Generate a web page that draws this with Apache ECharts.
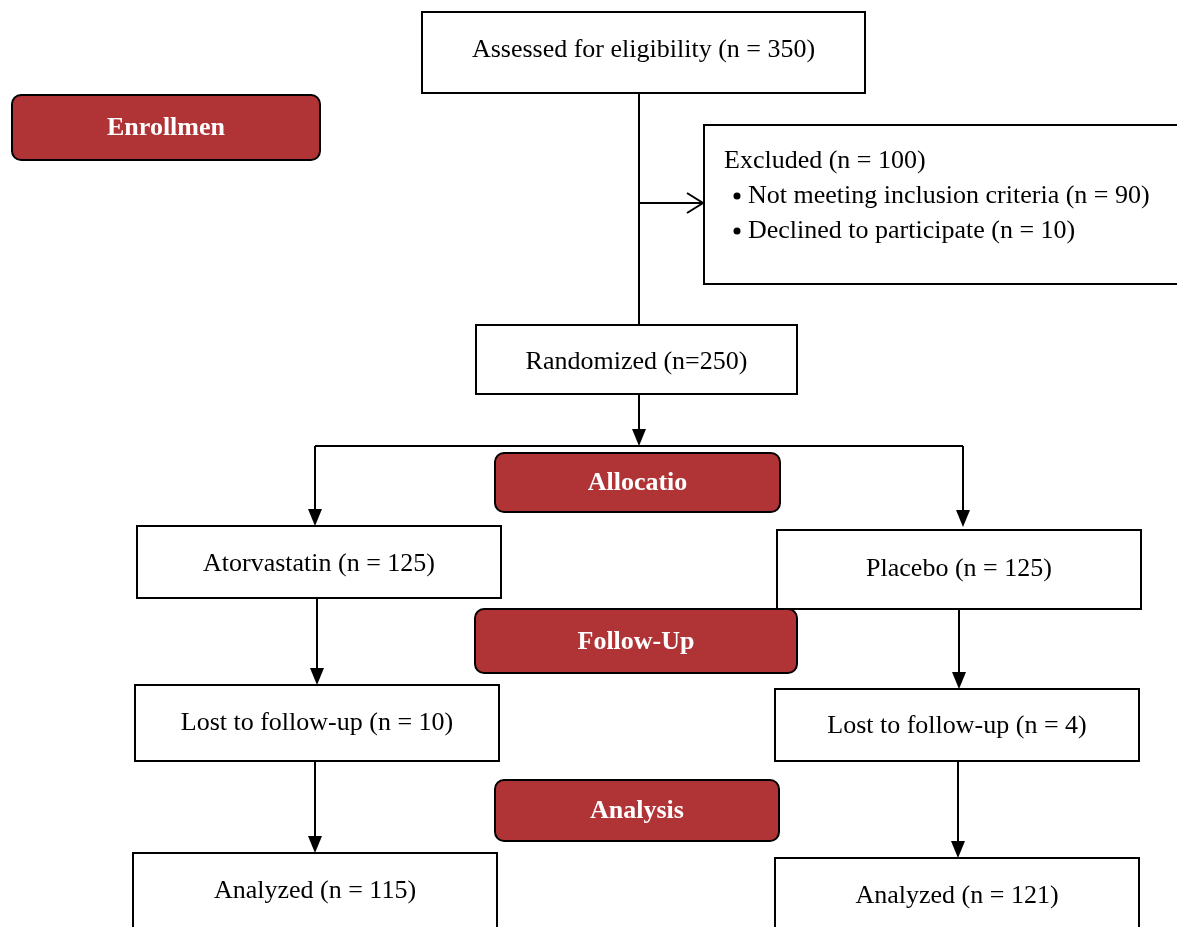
<!DOCTYPE html>
<html><head><meta charset="utf-8">
<script src="https://cdn.jsdelivr.net/npm/echarts@6/dist/echarts.min.js"></script>
<style>html,body{margin:0;padding:0;background:#fff;overflow:hidden}#c{width:1177px;height:927px}</style>
</head><body><div id="c"></div>
<script>
// ---- content (data) ----
const boxLabels = ['Assessed for eligibility', 'Randomized', 'Atorvastatin', 'Placebo', 'Lost to follow-up', 'Lost to follow-up', 'Analyzed', 'Analyzed'];
const boxCounts = [350, 250, 125, 125, 10, 4, 115, 121];
const excludedTitle = 'Excluded';
const excludedCount = 100;
const excludedReasons = ['Not meeting inclusion criteria', 'Declined to participate'];
const excludedReasonCounts = [90, 10];
const stageLabels = ['Enrollmen', 'Allocatio', 'Follow-Up', 'Analysis'];

// ---- layout (positions in chart units) ----
const boxRects = [[422,12,865,93],[476,325,797,394],[137,526,501,598],[777,530,1141,609],[135,685,499,761],[775,689,1139,761],[133,853,497,945],[775,858,1139,945]];
const boxTextY = [50, 362, 564, 569, 723, 726, 891, 896];
const excludedRect = [704, 125, 1190, 284];
const excludedLineY = [161, 196, 231];
const stageRects = [[12,95,320,160],[495,453,780,512],[475,609,797,673],[495,780,779,841]];
const connectorPaths = [
  [[639,93],[639,325]],
  [[639,203],[703,203]],
  [[639,394],[639,446]],
  [[315,446],[963,446]],
  [[315,446],[315,526]],
  [[963,446],[963,527]],
  [[317,592],[317,685]],
  [[959,598],[959,689]],
  [[315,761],[315,853]],
  [[958,761],[958,858]]
];
const connectorHeads = ['none','open','filled','none','filled','filled','filled','filled','filled','filled'];

// ---- styles ----
const FONT = '"Liberation Serif", "Times New Roman", serif';
const FS = 26;
const RED = '#B03335';

function countText(i) {
  return i === 1 ? boxLabels[i] + ' (n=' + boxCounts[i] + ')' : boxLabels[i] + ' (n = ' + boxCounts[i] + ')';
}

const chart = echarts.init(document.getElementById('c'), null, {renderer: 'canvas'});

const option = {
  animation: false,
  backgroundColor: '#fff',
  grid: {left: 0, right: 0, top: 0, bottom: 0},
  xAxis: {type: 'value', min: 0, max: 1177, show: false},
  yAxis: {type: 'value', min: 0, max: 927, inverse: true, show: false},
  series: [
    {
      type: 'custom', clip: false, z: 1,
      data: connectorPaths.map((p, i) => [i]),
      renderItem: function (params, api) {
        const i = api.value(0);
        const pts = connectorPaths[i].map(p => api.coord(p));
        const head = connectorHeads[i];
        const children = [];
        const end = pts[pts.length - 1];
        const linePts = pts.slice();
        if (head === 'filled') {
          linePts[linePts.length - 1] = [end[0], end[1] - 15];
          children.push({type: 'polygon', shape: {points: [[end[0]-7, end[1]-17], [end[0]+7, end[1]-17], [end[0], end[1]]]}, style: {fill: '#000'}});
        }
        children.push({type: 'polyline', shape: {points: linePts}, style: {stroke: '#000', lineWidth: 2, fill: null}});
        if (head === 'open') {
          children.push({type: 'polyline', shape: {points: [[end[0]-16, end[1]-10], [end[0], end[1]], [end[0]-16, end[1]+10]]}, style: {stroke: '#000', lineWidth: 2, fill: null}});
        }
        return {type: 'group', children: children};
      }
    },
    {
      type: 'custom', clip: false, z: 2,
      data: boxLabels.map((l, i) => [i]),
      renderItem: function (params, api) {
        const i = api.value(0);
        const r = boxRects[i];
        const a = api.coord([r[0], r[1]]);
        const b = api.coord([r[2], r[3]]);
        const t = api.coord([(r[0] + r[2]) / 2, boxTextY[i]]);
        return {type: 'group', children: [
          {type: 'rect', shape: {x: a[0], y: a[1], width: b[0]-a[0], height: b[1]-a[1]}, style: {fill: '#fff', stroke: '#000', lineWidth: 2}},
          {type: 'text', style: {text: countText(i), x: t[0], y: t[1], align: 'center', verticalAlign: 'middle', fontFamily: FONT, fontSize: FS, fill: '#000'}}
        ]};
      }
    },
    {
      type: 'custom', clip: false, z: 2,
      data: [[0]],
      renderItem: function (params, api) {
        const r = excludedRect;
        const a = api.coord([r[0], r[1]]);
        const b = api.coord([r[2], r[3]]);
        const children = [
          {type: 'rect', shape: {x: a[0], y: a[1], width: b[0]-a[0], height: b[1]-a[1]}, style: {fill: '#fff', stroke: '#000', lineWidth: 2}}
        ];
        const p0 = api.coord([724, excludedLineY[0]]);
        children.push({type: 'text', style: {text: excludedTitle + ' (n = ' + excludedCount + ')', x: p0[0], y: p0[1], align: 'left', verticalAlign: 'middle', fontFamily: FONT, fontSize: FS, fill: '#000'}});
        excludedReasons.forEach((reason, k) => {
          const pb = api.coord([737, excludedLineY[k+1]]);
          const pt = api.coord([748, excludedLineY[k+1]]);
          children.push({type: 'circle', shape: {cx: pb[0], cy: pb[1], r: 3.5}, style: {fill: '#000'}});
          children.push({type: 'text', style: {text: reason + ' (n = ' + excludedReasonCounts[k] + ')', x: pt[0], y: pt[1], align: 'left', verticalAlign: 'middle', fontFamily: FONT, fontSize: FS, fill: '#000'}});
        });
        return {type: 'group', children: children};
      }
    },
    {
      type: 'custom', clip: false, z: 3,
      data: stageLabels.map((l, i) => [i]),
      renderItem: function (params, api) {
        const i = api.value(0);
        const r = stageRects[i];
        const a = api.coord([r[0], r[1]]);
        const b = api.coord([r[2], r[3]]);
        return {type: 'group', children: [
          {type: 'rect', shape: {x: a[0], y: a[1], width: b[0]-a[0], height: b[1]-a[1], r: 9}, style: {fill: RED, stroke: '#000', lineWidth: 2}},
          {type: 'text', style: {text: stageLabels[i], x: (a[0]+b[0])/2, y: (a[1]+b[1])/2 + 1, align: 'center', verticalAlign: 'middle', fontFamily: FONT, fontSize: FS, fontWeight: 'bold', fill: '#fff'}}
        ]};
      }
    }
  ]
};
chart.setOption(option);
</script>
</body></html>
